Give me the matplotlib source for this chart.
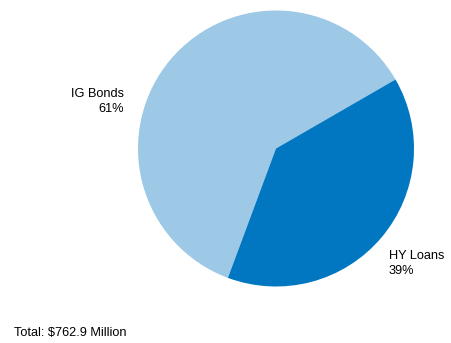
import matplotlib.pyplot as plt

plt.rcParams['font.family'] = ['Liberation Sans', 'DejaVu Sans']

labels = ['IG Bonds', 'HY Loans']
shares = [61, 39]
colors = ['#9dc8e6', '#0077c0']
total_text = 'Total: $762.9 Million'

fig = plt.figure(figsize=(4.51, 3.43), dpi=100)
ax = fig.add_axes([0, 0, 1, 1])

# pie in pixel-like coords, IG starts at 30 deg going counterclockwise
ax.pie(shares, colors=colors, startangle=30, counterclock=True,
       center=(276, 194.5), radius=138, frame=True,
       wedgeprops=dict(linewidth=0))
ax.set_xlim(0, 451)
ax.set_ylim(0, 343)
ax.set_aspect('equal')
ax.axis('off')

fs = 9.2
ax.text(124, 241.5, f'{labels[0]}\n{shares[0]}%', ha='right', va='center',
        multialignment='right', fontsize=fs, linespacing=1.25)
ax.text(389, 79.5, f'{labels[1]}\n{shares[1]}%', ha='left', va='center',
        multialignment='left', fontsize=fs, linespacing=1.25)
ax.text(14, 10, total_text, ha='left', va='center', fontsize=fs)

fig.savefig('out.png', dpi=100)
